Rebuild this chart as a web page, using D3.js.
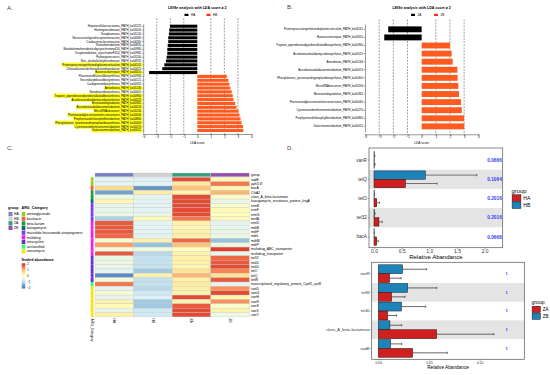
<!DOCTYPE html>
<html>
<head>
<meta charset="utf-8">
<script src="https://cdn.jsdelivr.net/npm/d3@7"></script>
<style>
body { margin: 0; background: #fff; }
svg { font-family: "Liberation Sans", Arial, sans-serif; }
</style>
</head>
<body>
<div id="chart"></div>
<script>
// ---- panel A / B : LEfSe
const pathA = [
  "Hepatocellularcarcinoma_PATH_ko05225",
  "Huntingtonsdisease_PATH_ko05016",
  "Toxoplasmosis_PATH_ko05145",
  "Neuroactiveligandreceptorinteraction_PATH_ko04080",
  "Cardiacmusclecontraction_PATH_ko04260",
  "Retinolmetabolism_PATH_ko00830",
  "Metabolismofxenobioticsbycytochromep450_PATH_ko00980",
  "Drugmetabolism_cytochromeP450_PATH_ko00982",
  "Pathwaysincancer_PATH_ko05200",
  "Non_alcoholicfattyliverdisease_PATH_ko04932",
  "Proteinprocessingintheendoplasmicreticulum_PATH_ko04141",
  "Chloroalkaneandchloroalkenedegradation_PATH_ko00625",
  "Baseexcisionrepair_PATH_ko03410",
  "Flavoneandflavonolbiosynthesis_PATH_ko00944",
  "Secondarybileacidbiosynthesis_PATH_ko00121",
  "Carbapenembiosynthesis_PATH_ko00332",
  "Amoebiasis_PATH_ko05146",
  "Novobiocinbiosynthesis_PATH_ko00401",
  "Tropane_piperidineandpyridinealkaloidbiosynthesis_PATH_ko00960",
  "Acarboseandvalidamycinbiosynthesis_PATH_ko00525",
  "Benzoatedegradation_PATH_ko00362",
  "Ascorbateandaldaratemetabolism_PATH_ko00053",
  "MicroRNAsincancer_PATH_ko05206",
  "Pentoseandglucuronateinterconversions_PATH_ko00040",
  "Porphyrinandchlorophyllmetabolism_PATH_ko00860",
  "Phenylalanine_tyrosineandtryptophanbiosynthesis_PATH_ko00400",
  "Cysteineandmethioninemetabolism_PATH_ko00270",
  "Galactosemetabolism_PATH_ko00052"
];
const ldaA = [-2.02, -2.07, -2.1, -2.15, -2.15, -2.19, -2.22, -2.22, -2.27, -2.32, -2.44, -2.59, -3.56,
  2.18, 2.3, 2.37, 2.45, 2.55, 2.62, 2.68, 2.8, 2.9, 3.05, 3.12, 3.2, 3.27, 3.38, 3.4];

const pathB = [
  "Proteinprocessingintheendoplasmicreticulum_PATH_ko04141",
  "Baseexcisionrepair_PATH_ko03410",
  "Tropane_piperidineandpyridinealkaloidbiosynthesis_PATH_ko00960",
  "Acarboseandvalidamycinbiosynthesis_PATH_ko00525",
  "Amoebiasis_PATH_ko05146",
  "Ascorbateandaldaratemetabolism_PATH_ko00053",
  "Phenylalanine_tyrosineandtryptophanbiosynthesis_PATH_ko00400",
  "MicroRNAsincancer_PATH_ko05206",
  "Benzoatedegradation_PATH_ko00362",
  "Pentoseandglucuronateinterconversions_PATH_ko00040",
  "Cysteineandmethioninemetabolism_PATH_ko00270",
  "Porphyrinandchlorophyllmetabolism_PATH_ko00860",
  "Galactosemetabolism_PATH_ko00052"
];
const ldaB = [-2.36, -2.64, 2.0, 2.12, 2.19, 2.52, 2.54, 2.59, 2.64, 2.78, 2.83, 2.99, 3.01];
const ldaTicks = [-4, -3, -2, -1, 0, 1, 2, 3, 4];

// ---- panel C : heatmap
const groups = ["HA", "HB", "ZA", "ZB"];
const catNames = ["aminoglycoside", "bacitracin", "beta-lactam", "kasugamycin",
  "macrolide-lincosamide-streptogramin", "multidrug", "tetracycline", "unclassified", "vancomycin"];
const args = ["sadE", "aph3-III", "bacA", "CfxA2", "class_A_beta-lactamase",
  "kasugamycin_resistance_protein_ksgA", "ermB", "ermF", "ermG", "mefA",
  "emrD", "mdtB", "mdtF", "mdtL", "mdtM", "mdtP", "multidrug_ABC_transporter", "multidrug_transporter",
  "tet32", "tet40", "tet44", "tetO", "tetQ", "tetW",
  "transcriptional_regulatory_protein_CpxR_cpxR",
  "vanD", "vanG", "vanH", "vanR", "vanS", "vanX", "vanY"];
const argCat = [0, 0, 1, 2, 2, 3, 4, 4, 4, 4, 5, 5, 5, 5, 5, 5, 5, 5, 6, 6, 6, 6, 6, 6, 7, 8, 8, 8, 8, 8, 8, 8];
const heat = [
  [-0.6, -0.7, 1.8, 0.1],
  [-0.6, -0.6, 0.5, 1.5],
  [0.7, -1.7, 0.9, 0.2],
  [-1.6, 0.4, 0.3, 1.0],
  [-0.4, -0.6, 1.8, -0.1],
  [0.2, -0.6, 1.8, -0.5],
  [-0.5, -0.6, 1.8, -0.1],
  [-0.5, -0.6, 1.8, 0.1],
  [-0.4, -0.5, 1.8, 0.0],
  [-1.1, 0.1, 1.5, 0.1],
  [1.7, -0.6, 0.3, -0.6],
  [1.7, -0.6, 0.2, -0.5],
  [1.7, -0.6, 0.3, -0.5],
  [1.6, -0.6, 0.3, -0.4],
  [-0.2, 0.3, 1.6, -1.3],
  [1.2, -1.3, 0.9, -0.4],
  [-0.3, -0.3, 0.0, 1.9],
  [1.7, -1.0, 0.3, -0.5],
  [-0.5, -0.9, 0.3, 1.6],
  [-0.4, -0.9, 0.3, 1.7],
  [-0.5, -0.9, 0.2, 1.8],
  [-0.6, -1.2, 0.6, 1.4],
  [-1.8, 0.3, 1.0, 0.6],
  [-0.3, -0.9, 0.3, 1.7],
  [1.5, -0.9, 0.4, -0.6],
  [-0.6, -1.0, 0.3, 1.3],
  [-0.2, -0.8, 0.2, 1.8],
  [-0.6, -0.7, 1.8, 0.2],
  [0.3, -1.2, 0.3, 1.3],
  [0.1, -1.2, 1.7, -0.2],
  [-0.5, -0.8, 1.8, 0.3],
  [0.3, -0.8, 1.8, -0.4]
];
const abundTicks = [2, 1, 0, -1, -2];

// ---- panel D : relative abundance
const genesH = ["vanR", "tetQ", "tetO", "tet32", "bacA"];
const haMean = [0.005, 0.57, 0.05, 0.09, 0.05];
const haSd = [0.015, 0.57, 0.05, 0.06, 0.03];
const hbMean = [0.005, 0.93, 0.005, 0.01, 0.003];
const hbSd = [0.01, 0.93, 0.005, 0.01, 0.003];
const pH = ["0.0666", "0.1064", "0.2016", "0.2016", "0.0666"];
const ticksH = [0, 0.5, 1, 1.5, 2];

const genesZ = ["vanR", "tetW", "tet40", "class_A_beta-lactamase", "sadE"];
const zaMean = [0.0112, 0.0132, 0.0093, 0.0576, 0.0339];
const zaSd = [0.0112, 0.0131, 0.0087, 0.0564, 0.0341];
const zbMean = [0.024, 0.029, 0.023, 0.0115, 0.0122];
const zbSd = [0.0237, 0.0286, 0.0237, 0.0115, 0.0108];
const pZ = ["1", "1", "1", "1", "1"];
const ticksZ = [0, 0.05, 0.1];

const FONT = "Liberation Sans, Arial, sans-serif";

const svg = d3.select("#chart")
              .append("svg")
              .attr("width", 550)
              .attr("height", 375)
              .style("background", "white");

// panel letters
[["A.", 7, 10], ["B.", 287, 9], ["C.", 7, 150], ["D.", 287, 150]].forEach(p => {
  svg.append("text").attr("x", p[1]).attr("y", p[2]).text(p[0])
     .attr("font-size", 6).attr("fill", "#444");
});

function lefse(o) {
  const x = d3.scaleLinear().domain([-4, 4]).range([o.x0, o.x1]);
  const y = d3.scaleBand().domain(o.paths).range([o.y0, o.y1]).padding(o.pad);
  const g = svg.append("g");

  g.selectAll(".dash")
   .data(ldaTicks.filter(t => t !== 0 && Math.abs(t) < 4))
   .enter().append("line")
   .attr("x1", d => x(d)).attr("x2", d => x(d))
   .attr("y1", o.top).attr("y2", o.axisY)
   .attr("stroke", "#222").attr("stroke-width", 0.45)
   .attr("stroke-dasharray", "1.8,1.3");

  g.selectAll(".bar")
   .data(o.lda)
   .enter().append("rect")
   .attr("x", d => x(Math.min(0, d)))
   .attr("width", d => Math.abs(x(d) - x(0)))
   .attr("y", (d, i) => y(o.paths[i]))
   .attr("height", y.bandwidth())
   .attr("fill", d => d < 0 ? "#000" : "#ff5a1f");

  const ax = g.append("g")
              .attr("transform", `translate(0, ${o.axisY})`)
              .call(d3.axisBottom(x).tickValues(ldaTicks).tickSize(1.2).tickPadding(0.4))
              .attr("font-family", FONT).attr("font-size", 3);
  ax.select(".domain").attr("stroke-width", 0.4);
  ax.selectAll(".tick line").attr("stroke-width", 0.4);

  const ay = g.append("g")
              .attr("transform", `translate(${o.x0}, 0)`)
              .call(d3.axisLeft(y).tickSize(1.2).tickSizeOuter(0).tickPadding(0.8))
              .attr("font-family", FONT).attr("font-size", 2.9);
  ay.select(".domain").attr("stroke-width", 0.4);
  ay.selectAll(".tick line").attr("stroke-width", 0.4);
  ay.selectAll(".tick").each(function(d) {
    if (!o.highlight(d)) return;
    const b = d3.select(this).select("text").node().getBBox();
    d3.select(this).insert("rect", "text")
      .attr("x", b.x - 0.3).attr("y", b.y - 0.1)
      .attr("width", b.width + 1.2).attr("height", b.height + 0.2)
      .attr("fill", "#ffff1a");
  });

  g.append("text").attr("x", x(0)).attr("y", 8.5)
   .attr("text-anchor", "middle").attr("font-size", 3.6).attr("font-weight", "bold")
   .text("LEfSe analysis with LDA score \u2265 2");
  g.append("text").attr("x", x(0)).attr("y", o.axisY + 9.5)
   .attr("text-anchor", "middle").attr("font-size", 3.2)
   .text("LDA score");

  o.names.forEach((n, i) => {
    g.append("rect").attr("x", o.leg[i]).attr("y", 13.8).attr("width", 4).attr("height", 2.2)
     .attr("rx", 0.6).attr("fill", i === 0 ? "#000" : "#ff2a1a");
    g.append("text").attr("x", o.leg[i] + 6.5).attr("y", 16).attr("font-size", 3)
     .text(n);
  });
}

lefse({ paths: pathA, lda: ldaA, x0: 143.2, x1: 251.4, y0: 23.9, y1: 132.8, pad: 0.2,
        top: 18.3, axisY: 134, names: ["HA", "HB"], leg: [184.5, 206.5],
        highlight: d => pathB.includes(d) });
lefse({ paths: pathB, lda: ldaB, x0: 365, x1: 478.3, y0: 24.2, y1: 131.5, pad: 0.27,
        top: 19.5, axisY: 134.3, names: ["ZA", "ZB"], leg: [411, 434],
        highlight: d => false });

// ---- heatmap
const xC = d3.scaleBand().domain(groups).range([95, 249.3]);
const yC = d3.scaleBand().domain(args).range([177.3, 316.9]);
const heatCol = d3.scaleLinear()
                  .domain([-2, -1.333, -0.667, 0, 0.667, 1.333, 2])
                  .range(["#4575B4", "#91BFDB", "#E0F3F8", "#FFFFBF", "#FEE090", "#FC8D59", "#D73027"]);
const groupCol = ["#7a80c2", "#d0d0d0", "#3a9f7b", "#9551b0"];
const catCol = ["#8fcf2c", "#f1633a", "#1f9a3a", "#0c6c6c", "#7a3cf0", "#ee22dd", "#6a2fd0", "#33ff66", "#f5e31a"];

const hg = svg.append("g");
const cells = args.flatMap((a, i) => groups.map((gr, j) => ({ a, gr, v: heat[i][j] })));
hg.selectAll(".cell")
  .data(cells)
  .enter().append("rect")
  .attr("x", d => xC(d.gr)).attr("y", d => yC(d.a))
  .attr("width", xC.bandwidth()).attr("height", yC.bandwidth())
  .attr("fill", d => heatCol(d.v))
  .attr("stroke", "#c4c4c4").attr("stroke-width", 0.3);

hg.selectAll(".grp")
  .data(groups)
  .enter().append("rect")
  .attr("x", d => xC(d)).attr("y", 173)
  .attr("width", xC.bandwidth()).attr("height", 3.7)
  .attr("fill", (d, i) => groupCol[i])
  .attr("stroke", "#c4c4c4").attr("stroke-width", 0.3);

hg.selectAll(".cat")
  .data(args)
  .enter().append("rect")
  .attr("x", 90.7).attr("y", d => yC(d))
  .attr("width", 2.8).attr("height", yC.bandwidth() + 0.05)
  .attr("fill", (d, i) => catCol[argCat[i]]);

hg.selectAll(".rowlab")
  .data(args)
  .enter().append("text")
  .attr("x", 251).attr("y", d => yC(d) + yC.bandwidth() / 2)
  .attr("dy", "0.35em").attr("font-size", 3.4)
  .text(d => d);
hg.append("text").attr("x", 251).attr("y", 175.2).attr("dy", "0.35em")
  .attr("font-size", 3.4).text("group");

hg.selectAll(".collab")
  .data(groups)
  .enter().append("text")
  .attr("transform", d => `translate(${xC(d) + xC.bandwidth() / 2}, 318.5) rotate(90)`)
  .attr("dy", "0.35em").attr("font-size", 3.4)
  .text(d => d);
hg.append("text").attr("transform", "translate(92.1, 318.5) rotate(90)")
  .attr("dy", "0.35em").attr("font-size", 3.4).text("ARG_Category");

// heatmap legends
hg.append("text").attr("x", 8).attr("y", 209).attr("font-size", 3.7).attr("font-weight", "bold").text("group");
hg.append("text").attr("x", 21.5).attr("y", 209).attr("font-size", 3.7).attr("font-weight", "bold").text("ARG_Category");
groups.forEach((gr, i) => {
  hg.append("rect").attr("x", 8.5).attr("y", 212 + i * 4.6).attr("width", 4).attr("height", 4.2).attr("fill", groupCol[i]);
  hg.append("text").attr("x", 14).attr("y", 214.1 + i * 4.6).attr("dy", "0.35em").attr("font-size", 3.4).text(gr);
});
catNames.forEach((c, i) => {
  hg.append("rect").attr("x", 21.7).attr("y", 212 + i * 4.65).attr("width", 3.6).attr("height", 4.2).attr("fill", catCol[i]);
  hg.append("text").attr("x", 26.7).attr("y", 214.1 + i * 4.65).attr("dy", "0.35em").attr("font-size", 3.4).text(c);
});
hg.append("text").attr("x", 21.5).attr("y", 261).attr("font-size", 3.7).attr("font-weight", "bold").text("Scaled abundance");
const grad = svg.append("defs").append("linearGradient").attr("id", "abund")
               .attr("x1", 0).attr("x2", 0).attr("y1", 0).attr("y2", 1);
d3.range(0, 1.0001, 0.1).forEach(t => {
  grad.append("stop").attr("offset", t).attr("stop-color", heatCol(2.1 - 4.2 * t));
});
const yL = d3.scaleLinear().domain([2.1, -2.1]).range([263.3, 288.5]);
hg.append("rect").attr("x", 21.7).attr("y", 263.3).attr("width", 3.6).attr("height", 25.2).attr("fill", "url(#abund)");
hg.selectAll(".lt")
  .data(abundTicks)
  .enter().append("text")
  .attr("x", 27).attr("y", d => yL(d)).attr("dy", "0.35em").attr("font-size", 3.2)
  .text(d => d < 0 ? "\u2212" + Math.abs(d) : d);
hg.selectAll(".ltk")
  .data(abundTicks)
  .enter().append("line")
  .attr("x1", 21.7).attr("x2", 22.5).attr("y1", d => yL(d)).attr("y2", d => yL(d))
  .attr("stroke", "#fff").attr("stroke-width", 0.3);

// ---- relative abundance panels
function barPanel(o) {
  const x = d3.scaleLinear().domain(o.xd).range(o.xr);
  const y = d3.scaleBand().domain(o.genes).range(o.yr);
  const [bx, by, bw, bh] = o.box;
  const g = svg.append("g");

  g.selectAll(".shade")
   .data(o.genes.filter((d, i) => i % 2 === 1))
   .enter().append("rect")
   .attr("x", bx).attr("width", bw)
   .attr("y", d => y(d)).attr("height", y.bandwidth())
   .attr("fill", "#e4e4e4");

  const h = (y.bandwidth() - 2 * o.inPad) / 2;
  const series = [{ m: o.m2, s: o.s2, c: "#1c84b8", off: 0 }, { m: o.m1, s: o.s1, c: "#cf1f1f", off: 1 }];
  series.forEach(sr => {
    g.selectAll(null)
     .data(o.genes)
     .enter().append("path")
     .attr("d", (d, i) => {
       const yc = y(d) + o.inPad + sr.off * h + h / 2;
       const x1 = x(sr.m[i]), x2 = x(sr.m[i] + sr.s[i]);
       return `M${x1},${yc}H${x2}M${x2},${yc - o.cap}V${yc + o.cap}`;
     })
     .attr("stroke", "#444").attr("stroke-width", o.ew).attr("fill", "none");
    g.selectAll(null)
     .data(o.genes)
     .enter().append("rect")
     .attr("x", x(0))
     .attr("y", d => y(d) + o.inPad + sr.off * h)
     .attr("width", (d, i) => x(sr.m[i]) - x(0))
     .attr("height", h)
     .attr("fill", sr.c).attr("stroke", "#111").attr("stroke-width", 0.45);
  });

  g.selectAll(".pv")
   .data(o.p)
   .enter().append("text")
   .attr("x", o.px).attr("y", (d, i) => y(o.genes[i]) + y.bandwidth() / 2)
   .attr("dy", "0.35em").attr("text-anchor", "middle")
   .attr("font-size", o.pfs).attr("font-weight", "bold").attr("fill", "#3a3aff")
   .text(d => d);

  const ax = g.append("g")
              .attr("transform", `translate(0, ${by + bh})`)
              .call(d3.axisBottom(x).tickValues(o.ticks).tickFormat(d3.format(o.fmt)).tickSize(1.3).tickPadding(0.6))
              .attr("font-family", FONT).attr("font-size", o.tfs);
  ax.select(".domain").remove();
  ax.selectAll(".tick line").attr("stroke", "#444").attr("stroke-width", 0.45);
  ax.selectAll("text").attr("fill", "#333");

  const ay = g.append("g")
              .attr("transform", `translate(${bx}, 0)`)
              .call(d3.axisLeft(y).tickSize(1.3).tickPadding(0.8))
              .attr("font-family", FONT).attr("font-size", o.yfs);
  ay.select(".domain").remove();
  ay.selectAll(".tick line").attr("stroke", "#444").attr("stroke-width", 0.45);
  ay.selectAll("text").attr("fill", "#333");

  g.append("rect").attr("x", bx).attr("y", by).attr("width", bw).attr("height", bh)
   .attr("fill", "none").attr("stroke", "#555").attr("stroke-width", 0.7);

  g.append("text").attr("x", bx + bw / 2).attr("y", o.titleY)
   .attr("text-anchor", "middle").attr("font-size", o.afs).text("Relative Abandance");

  const [lx, ly, kw, kh] = o.leg;
  g.append("text").attr("x", lx).attr("y", ly).attr("font-size", o.lfs * 1.15).text("group");
  o.names.forEach((n, i) => {
    g.append("rect").attr("x", lx + 0.6).attr("y", ly + 2.2 + i * (kh + 0.6))
     .attr("width", kw).attr("height", kh)
     .attr("fill", i === 0 ? "#cf1f1f" : "#1c84b8").attr("stroke", "#111").attr("stroke-width", 0.45);
    g.append("text").attr("x", lx + kw + 3).attr("y", ly + 2.2 + i * (kh + 0.6) + kh / 2)
     .attr("dy", "0.35em").attr("font-size", o.lfs).text(n);
  });
}

barPanel({ genes: genesH, m1: haMean, s1: haSd, m2: hbMean, s2: hbSd, p: pH,
           xd: [-0.09, 2.33], xr: [369, 502.9], yr: [150.5, 246.5], box: [369, 148, 133.7, 99.7],
           inPad: 1.2, cap: 1.2, ew: 0.7, px: 494.5, pfs: 4.8, ticks: ticksH, fmt: ".1f",
           tfs: 5, yfs: 4.6, afs: 6, titleY: 258.8, names: ["HA", "HB"],
           leg: [511.5, 192.5, 8.8, 6.6], lfs: 5.1 });
barPanel({ genes: genesZ, m1: zaMean, s1: zaSd, m2: zbMean, s2: zbSd, p: pZ,
           xd: [-0.0065, 0.144], xr: [371.7, 524.3], yr: [264.4, 357.7], box: [371.7, 262.3, 152.6, 97],
           inPad: 0.4, cap: 1.1, ew: 0.8, px: 506.7, pfs: 4, ticks: ticksZ, fmt: ".2f",
           tfs: 3.4, yfs: 4, afs: 4.7, titleY: 369.3, names: ["ZA", "ZB"],
           leg: [531.5, 304, 8.3, 6.3], lfs: 4.5 });
</script>
</body>
</html>
